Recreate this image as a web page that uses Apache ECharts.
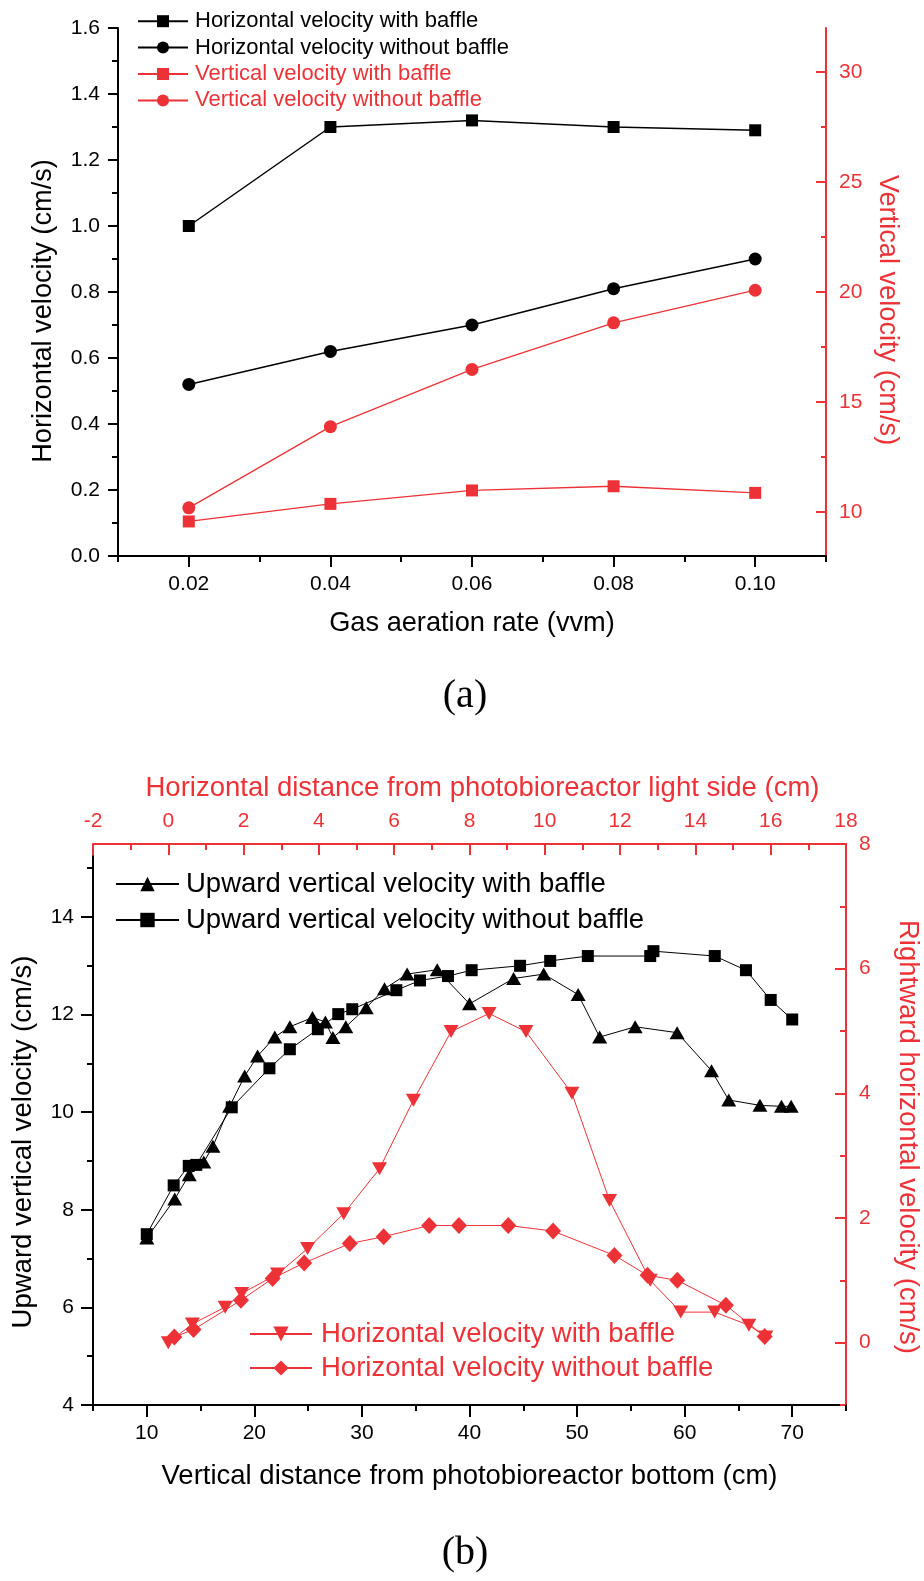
<!DOCTYPE html>
<html>
<head>
<meta charset="utf-8">
<script src="https://cdn.jsdelivr.net/npm/echarts@6/dist/echarts.min.js"></script>
<style>html,body{margin:0;padding:0;background:#fff}#main{width:924px;height:1581px}</style>
</head>
<body>
<div id="main"></div>
<script>
// ---------- (a) data ----------
var aerationRate = [0.02, 0.04, 0.06, 0.08, 0.10];
var hVelWithBaffle = [1.00, 1.30, 1.32, 1.30, 1.29];
var hVelWithoutBaffle = [0.52, 0.62, 0.70, 0.81, 0.90];
var vVelWithBaffle = [9.57, 10.37, 10.98, 11.17, 10.87];
var vVelWithoutBaffle = [10.19, 13.88, 16.48, 18.60, 20.08];

// ---------- (b) data ----------
var upWithX = [10.0, 12.6, 13.95, 15.3, 16.15, 17.7, 19.1, 20.3, 21.9, 23.3, 25.4, 26.6, 27.3, 28.5, 30.4, 32.1, 34.2, 37.0, 40.0, 44.1, 46.9, 50.1, 52.1, 55.4, 59.3, 62.5, 64.1, 67.0, 69.0, 69.9];
var upWithY = [7.42, 8.22, 8.72, 8.98, 9.30, 10.12, 10.74, 11.15, 11.54, 11.75, 11.94, 11.85, 11.53, 11.75, 12.14, 12.53, 12.83, 12.92, 12.22, 12.74, 12.83, 12.41, 11.54, 11.75, 11.63, 10.85, 10.25, 10.14, 10.12, 10.12];
var upWithoutX = [10.0, 12.5, 13.9, 14.6, 17.9, 21.4, 23.3, 25.9, 27.8, 29.1, 33.2, 35.4, 38.0, 40.2, 44.7, 47.5, 51.0, 56.8, 57.1, 62.8, 65.7, 68.0, 70.0];
var upWithoutY = [7.50, 8.50, 8.90, 8.92, 10.10, 10.90, 11.29, 11.70, 12.01, 12.11, 12.50, 12.70, 12.79, 12.91, 13.00, 13.10, 13.20, 13.20, 13.30, 13.20, 12.91, 12.30, 11.90];
var rightWithX = [0.0, 0.64, 1.51, 1.95, 2.90, 3.70, 4.66, 5.61, 6.51, 7.51, 8.52, 9.50, 10.72, 11.72, 12.8, 13.61, 14.51, 15.42, 15.87];
var rightWithY = [0.00, 0.30, 0.57, 0.79, 1.10, 1.51, 2.07, 2.79, 3.89, 4.99, 5.28, 4.99, 4.00, 2.28, 1.00, 0.49, 0.49, 0.28, 0.09];
var rightWithoutX = [0.16, 0.67, 1.93, 2.77, 3.61, 4.82, 5.72, 6.93, 7.72, 9.03, 10.22, 11.85, 12.73, 13.52, 14.81, 15.84];
var rightWithoutY = [0.09, 0.21, 0.68, 1.03, 1.28, 1.59, 1.70, 1.88, 1.88, 1.88, 1.79, 1.40, 1.08, 1.00, 0.60, 0.10];

// ---------- tick labels ----------
var aXTicks = [0.02, 0.04, 0.06, 0.08, 0.10];
var aXMinorTicks = [0.01, 0.03, 0.05, 0.07, 0.09, 0.11];
var aYRightTicks = [10, 15, 20, 25, 30];
var aYRightMinorTicks = [12.5, 17.5, 22.5, 27.5];
var bXTicks = [10, 20, 30, 40, 50, 60, 70];
var bXMinorTicks = [5, 15, 25, 35, 45, 55, 65, 75];
var bYLeftTicks = [4, 6, 8, 10, 12, 14];
var bYLeftMinorTicks = [5, 7, 9, 11, 13, 15];
var bYRightTicks = [0, 2, 4, 6, 8];
var bYRightMinorTicks = [-1, 1, 3, 5, 7];

function pairs(xs, ys) { return xs.map(function (x, i) { return [x, ys[i]]; }); }

var RED = '#ED3237';
var BLACK = '#000000';
var FONT = '"Liberation Sans", Arial, sans-serif';

function baseAxis(color) {
  return {
    type: 'value',
    nameMoveOverlap: false,
    axisLine: { show: true, onZero: false, lineStyle: { color: color, width: 2 } },
    splitLine: { show: false },
    minorSplitLine: { show: false },
    axisLabel: { fontFamily: FONT, fontSize: 21, color: color },
    nameTextStyle: { fontFamily: FONT, fontSize: 27, color: color }
  };
}
function ext(a, b) { for (var k in b) a[k] = b[k]; return a; }
function minorAxis(color, grid, pos, min, max, ticks, len, inside) {
  return {
    type: 'value', gridIndex: grid, position: pos, min: min, max: max,
    axisLine: { show: false, onZero: false },
    splitLine: { show: false },
    axisLabel: { show: false, customValues: ticks },
    axisTick: { show: true, customValues: ticks, inside: inside, length: len, lineStyle: { color: color, width: 2 } }
  };
}

var option = {
  animation: false,
  backgroundColor: '#ffffff',
  grid: [
    { left: 118, right: 98, top: 28, bottom: 1025, outerBoundsMode: 'none' },
    { left: 93, right: 78, top: 844, bottom: 176, outerBoundsMode: 'none' },
    { left: 93, right: 78, top: 856, bottom: 176, outerBoundsMode: 'none' }
  ],
  xAxis: [
    ext(baseAxis(BLACK), {
      gridIndex: 0, position: 'bottom', min: 0.01, max: 0.11,
      axisTick: { show: true, customValues: aXTicks, inside: false, length: 11, lineStyle: { color: BLACK, width: 2 } },
      axisLabel: { customValues: aXTicks, fontFamily: FONT, fontSize: 21, color: BLACK, margin: 18, formatter: function (v) { return v.toFixed(2); } },
      name: 'Gas aeration rate (vvm)', nameLocation: 'middle', nameGap: 54,
      nameTextStyle: { fontFamily: FONT, fontSize: 27.2, color: BLACK }
    }),
    minorAxis(BLACK, 0, 'bottom', 0.01, 0.11, aXMinorTicks, 6, false),
    ext(baseAxis(RED), {
      gridIndex: 1, position: 'top', min: -2, max: 18, interval: 2,
      axisTick: { show: true, inside: true, length: 11, lineStyle: { color: RED, width: 2 } },
      minorTick: { show: true, splitNumber: 2, length: 6, lineStyle: { color: RED, width: 2 } },
      axisLabel: { fontFamily: FONT, fontSize: 21, color: RED, margin: 12 },
      name: 'Horizontal distance from photobioreactor light side (cm)', nameLocation: 'middle', nameGap: 42,
      nameTextStyle: { fontFamily: FONT, fontSize: 27.5, color: RED, padding: [0, 0, 0, 26] }
    }),
    ext(baseAxis(BLACK), {
      gridIndex: 2, position: 'bottom', min: 5, max: 75,
      axisTick: { show: true, customValues: bXTicks, inside: false, length: 12, lineStyle: { color: BLACK, width: 2 } },
      axisLabel: { customValues: bXTicks, fontFamily: FONT, fontSize: 21, color: BLACK, margin: 18 },
      name: 'Vertical distance from photobioreactor bottom (cm)', nameLocation: 'middle', nameGap: 57,
      nameTextStyle: { fontFamily: FONT, fontSize: 27.5, color: BLACK }
    }),
    minorAxis(BLACK, 2, 'bottom', 5, 75, bXMinorTicks, 6, false)
  ],
  yAxis: [
    ext(baseAxis(BLACK), {
      gridIndex: 0, position: 'left', min: 0, max: 1.6, interval: 0.2,
      axisTick: { show: true, inside: false, length: 10, lineStyle: { color: BLACK, width: 2 } },
      minorTick: { show: true, splitNumber: 2, length: 6, lineStyle: { color: BLACK, width: 2 } },
      axisLabel: { fontFamily: FONT, fontSize: 21, color: BLACK, margin: 18, formatter: function (v) { return v.toFixed(1); } },
      name: 'Horizontal velocity (cm/s)', nameLocation: 'middle', nameGap: 61, nameRotate: 90,
      nameTextStyle: { fontFamily: FONT, fontSize: 27.2, color: BLACK, padding: [0, 38, 0, 0] }
    }),
    ext(baseAxis(RED), {
      gridIndex: 0, position: 'right', min: 8, max: 32,
      axisTick: { show: true, customValues: aYRightTicks, inside: true, length: 10, lineStyle: { color: RED, width: 2 } },
      axisLabel: { customValues: aYRightTicks, fontFamily: FONT, fontSize: 21, color: RED, margin: 13 },
      name: 'Vertical velocity (cm/s)', nameLocation: 'middle', nameGap: 48, nameRotate: -90,
      nameTextStyle: { fontFamily: FONT, fontSize: 27.2, color: RED, padding: [0, 0, 0, 36] }
    }),
    minorAxis(RED, 0, 'right', 8, 32, aYRightMinorTicks, 5, true),
    ext(baseAxis(RED), {
      gridIndex: 1, position: 'right', min: -1, max: 8,
      axisTick: { show: true, customValues: bYRightTicks, inside: true, length: 11, lineStyle: { color: RED, width: 2 } },
      axisLabel: { customValues: bYRightTicks, fontFamily: FONT, fontSize: 21, color: RED, margin: 13 },
      name: 'Rightward horizontal velocity (cm/s)', nameLocation: 'middle', nameGap: 48, nameRotate: -90,
      nameTextStyle: { fontFamily: FONT, fontSize: 27.5, color: RED, padding: [0, 0, 0, 25] }
    }),
    minorAxis(RED, 1, 'right', -1, 8, bYRightMinorTicks, 6, true),
    ext(baseAxis(BLACK), {
      gridIndex: 2, position: 'left', min: 4, max: 15.25,
      axisTick: { show: true, customValues: bYLeftTicks, inside: false, length: 12, lineStyle: { color: BLACK, width: 2 } },
      axisLabel: { customValues: bYLeftTicks, fontFamily: FONT, fontSize: 21, color: BLACK, margin: 19 },
      name: 'Upward vertical velocity (cm/s)', nameLocation: 'middle', nameGap: 56, nameRotate: 90,
      nameTextStyle: { fontFamily: FONT, fontSize: 27.5, color: BLACK, padding: [0, 23, 0, 0] }
    }),
    minorAxis(BLACK, 2, 'left', 4, 15.25, bYLeftMinorTicks, 6, false)
  ],
  legend: [
    {
      left: 137, top: 8, orient: 'vertical', itemWidth: 50, itemHeight: 15, itemGap: 0, padding: 0,
      selectedMode: false,
      textStyle: { fontFamily: FONT, fontSize: 22, lineHeight: 26.4, padding: [0, 0, 0, 2] },
      data: [
        { name: 'Horizontal velocity with baffle', textStyle: { color: BLACK } },
        { name: 'Horizontal velocity without baffle', textStyle: { color: BLACK } },
        { name: 'Vertical velocity with baffle', textStyle: { color: RED } },
        { name: 'Vertical velocity without baffle', textStyle: { color: RED } }
      ]
    },
    {
      left: 115, top: 866, orient: 'vertical', itemWidth: 63, itemHeight: 18, itemGap: 0, padding: 0,
      selectedMode: false,
      textStyle: { fontFamily: FONT, fontSize: 27.5, lineHeight: 36, color: BLACK, padding: [0, 0, 0, 2] },
      data: ['Upward vertical velocity with baffle', 'Upward vertical velocity without baffle']
    },
    {
      left: 249, top: 1317, orient: 'vertical', itemWidth: 62, itemHeight: 19, itemGap: 0, padding: 0,
      selectedMode: false,
      formatter: function (n) { return n.replace(/^\(b\) /, ''); },
      textStyle: { fontFamily: FONT, fontSize: 27.5, lineHeight: 34, color: RED, padding: [0, 0, 0, 4] },
      data: ['(b) Horizontal velocity with baffle', '(b) Horizontal velocity without baffle']
    }
  ],
  graphic: [
    { type: 'text', x: 465, y: 696, style: { text: '(a)', font: '40px "Liberation Serif", "Times New Roman", serif', fill: BLACK, align: 'center', verticalAlign: 'middle', textAlign: 'center', textVerticalAlign: 'middle' } },
    { type: 'text', x: 465, y: 1553, style: { text: '(b)', font: '40px "Liberation Serif", "Times New Roman", serif', fill: BLACK, align: 'center', verticalAlign: 'middle', textAlign: 'center', textVerticalAlign: 'middle' } }
  ],
  series: [
    { name: 'Horizontal velocity with baffle', type: 'line', xAxisIndex: 0, yAxisIndex: 0,
      data: pairs(aerationRate, hVelWithBaffle), symbol: 'rect', symbolSize: 12,
      itemStyle: { color: BLACK }, lineStyle: { color: BLACK, width: 1.5 } },
    { name: 'Horizontal velocity without baffle', type: 'line', xAxisIndex: 0, yAxisIndex: 0,
      data: pairs(aerationRate, hVelWithoutBaffle), symbol: 'circle', symbolSize: 13,
      itemStyle: { color: BLACK }, lineStyle: { color: BLACK, width: 1.5 } },
    { name: 'Vertical velocity with baffle', type: 'line', xAxisIndex: 0, yAxisIndex: 1,
      data: pairs(aerationRate, vVelWithBaffle), symbol: 'rect', symbolSize: 12,
      itemStyle: { color: RED }, lineStyle: { color: RED, width: 1.3 } },
    { name: 'Vertical velocity without baffle', type: 'line', xAxisIndex: 0, yAxisIndex: 1,
      data: pairs(aerationRate, vVelWithoutBaffle), symbol: 'circle', symbolSize: 13,
      itemStyle: { color: RED }, lineStyle: { color: RED, width: 1.3 } },

    { name: 'Upward vertical velocity with baffle', type: 'line', xAxisIndex: 3, yAxisIndex: 5,
      data: pairs(upWithX, upWithY), symbol: 'triangle', symbolSize: [15, 13],
      itemStyle: { color: BLACK }, lineStyle: { color: BLACK, width: 1 } },
    { name: 'Upward vertical velocity without baffle', type: 'line', xAxisIndex: 3, yAxisIndex: 5,
      data: pairs(upWithoutX, upWithoutY), symbol: 'rect', symbolSize: 12,
      itemStyle: { color: BLACK }, lineStyle: { color: BLACK, width: 1 } },
    { name: '(b) Horizontal velocity with baffle', type: 'line', xAxisIndex: 2, yAxisIndex: 3,
      data: pairs(rightWithX, rightWithY), symbol: 'path://M0,0L10,0L5,9Z', symbolSize: [15, 13],
      itemStyle: { color: RED }, lineStyle: { color: RED, width: 1 } },
    { name: '(b) Horizontal velocity without baffle', type: 'line', xAxisIndex: 2, yAxisIndex: 3,
      data: pairs(rightWithoutX, rightWithoutY), symbol: 'diamond', symbolSize: [16, 17],
      itemStyle: { color: RED }, lineStyle: { color: RED, width: 1 } }
  ]
};

var chart = echarts.init(document.getElementById('main'), null, { renderer: 'canvas' });
chart.setOption(option);
</script>
</body>
</html>
